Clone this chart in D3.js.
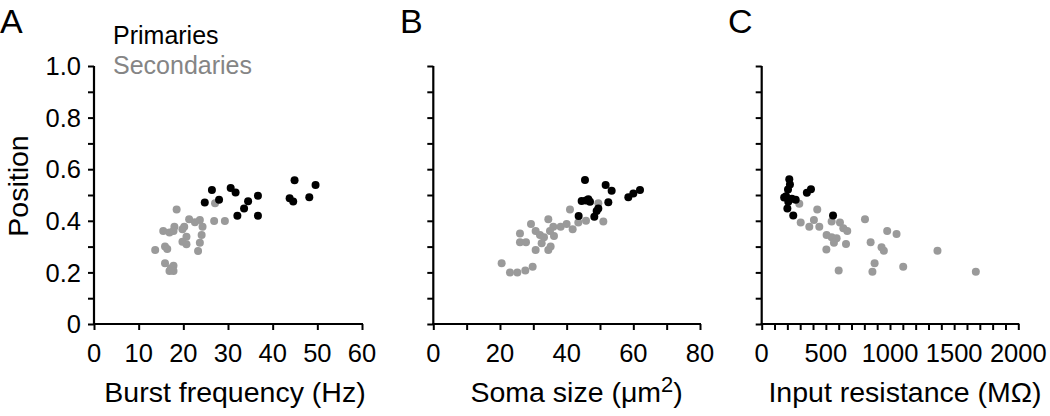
<!DOCTYPE html>
<html><head><meta charset="utf-8">
<script src="https://cdn.jsdelivr.net/npm/d3@7"></script>
<style>
html,body{margin:0;padding:0;background:#fff;}
svg text{font-family:"Liberation Sans",Arial,Helvetica,sans-serif;}
</style></head>
<body><svg id="c" width="1050" height="416"></svg>
<script>
// Panel A: burst frequency (Hz) vs position
const primA = [[24.8,0.471],[26.4,0.519],[28.0,0.482],[30.6,0.527],[31.7,0.510],[32.1,0.420],[33.6,0.448],[34.5,0.476],[36.7,0.497],[36.7,0.420],[43.8,0.487],[44.6,0.475],[44.9,0.557],[48.2,0.491],[49.6,0.539]];
const secA = [[18.5,0.444],[27.1,0.468],[26.9,0.399],[29.3,0.399],[21.3,0.406],[23.7,0.403],[22.6,0.394],[24.3,0.377],[20.2,0.377],[18.0,0.377],[15.5,0.360],[17.8,0.360],[16.9,0.355],[19.8,0.367],[20.7,0.338],[24.1,0.345],[19.8,0.319],[20.7,0.309],[23.7,0.315],[23.3,0.283],[13.7,0.287],[15.9,0.300],[16.4,0.291],[15.9,0.235],[17.8,0.226],[16.9,0.205],[17.8,0.205],[17.2,0.216]];
// Panel B: soma size (um2) vs position
const primB = [[45.5,0.558],[51.7,0.539],[53.5,0.516],[62.0,0.519],[60.0,0.506],[58.5,0.491],[44.5,0.477],[46.5,0.484],[47.0,0.474],[45.8,0.479],[52.5,0.472],[49.5,0.448],[49.0,0.438],[43.6,0.419],[48.3,0.416]];
const secB = [[20.5,0.235],[23.0,0.200],[25.2,0.200],[27.6,0.207],[29.8,0.222],[26.0,0.351],[26.0,0.317],[27.8,0.317],[29.3,0.388],[30.7,0.360],[32.0,0.345],[33.2,0.336],[32.5,0.313],[30.7,0.287],[34.5,0.287],[35.2,0.300],[34.5,0.406],[36.0,0.377],[36.2,0.341],[35.0,0.360],[38.2,0.377],[40.0,0.388],[41.8,0.367],[41.0,0.444],[43.5,0.393],[45.8,0.400],[49.5,0.468],[51.0,0.397]];
// Panel C: input resistance (MOhm) vs position
const primC = [[215,0.561],[220,0.541],[205,0.521],[190,0.495],[175,0.490],[235,0.485],[265,0.482],[207,0.474],[200,0.448],[246,0.421],[352,0.509],[384,0.522],[556,0.421]];
const secC = [[293,0.466],[304,0.393],[371,0.377],[407,0.403],[449,0.377],[433,0.444],[545,0.397],[610,0.393],[636,0.371],[667,0.360],[506,0.345],[545,0.336],[584,0.332],[563,0.315],[657,0.310],[504,0.289],[600,0.207],[805,0.406],[849,0.317],[978,0.360],[1051,0.349],[934,0.297],[952,0.284],[880,0.235],[863,0.203],[1103,0.222],[1370,0.284],[1669,0.203]];

const yTicks = [0,0.1,0.2,0.3,0.4,0.5,0.6,0.7,0.8,0.9,1.0];
const yLabels = [0,0.2,0.4,0.6,0.8,1.0];
const xTicksA = [0,10,20,30,40,50,60];
const xLabelsA = [0,10,20,30,40,50,60];
const xTicksB = [0,10,20,30,40,50,60,70,80];
const xLabelsB = [0,20,40,60,80];
const xTicksC = d3.range(0,2001,100);
const xLabelsC = [0,500,1000,1500,2000];
const series = ["Primaries","Secondaries"];
const panelLetters = ["A","B","C"];
const xTitles = ["Burst frequency (Hz)","Soma size (\u03BCm","Input resistance (M\u03A9)"];

const colPrim = "#000000", colSec = "#9a9a9a", colSecText = "#858585";
const svg = d3.select("#c");
const y = d3.scaleLinear().domain([0,1]).range([324,66]);

const panels = [
  {x: d3.scaleLinear().domain([0,60]).range([94,362]), ticks:xTicksA, labels:xLabelsA, prim:primA, sec:secA, letterX:0, titleDx:7, yLab:true},
  {x: d3.scaleLinear().domain([0,80]).range([433.3,700]), ticks:xTicksB, labels:xLabelsB, prim:primB, sec:secB, letterX:400, titleDx:10, yLab:false},
  {x: d3.scaleLinear().domain([0,2000]).range([761.7,1018.3]), ticks:xTicksC, labels:xLabelsC, prim:primC, sec:secC, letterX:728, titleDx:15, yLab:false}
];

panels.forEach((p,i)=>{
  const g = svg.append("g");
  const x0 = p.x.range()[0], x1 = p.x.range()[1];
  // y axis
  const ya = g.append("g").attr("transform",`translate(${x0},0)`)
    .call(d3.axisLeft(y).tickValues(yTicks).tickSize(6).tickSizeOuter(0).tickFormat(""));
  ya.select(".domain").attr("stroke","#000").attr("stroke-width",2.2).attr("d",`M0,${y(0)}V${y(1)}`);
  ya.selectAll(".tick line").attr("stroke","#000").attr("stroke-width",2);
  if (p.yLab) {
    g.selectAll(".ylab").data(yLabels).join("text")
      .attr("x", x0-13).attr("y", d=>y(d)).attr("dy","0.36em")
      .attr("text-anchor","end").attr("font-size",25.5)
      .text(d=> d===0 ? "0" : d3.format(".1f")(d));
  }
  // x axis
  const xa = g.append("g").attr("transform",`translate(0,${y(0)})`)
    .call(d3.axisBottom(p.x).tickValues(p.ticks).tickSize(6).tickSizeOuter(0).tickFormat(""));
  xa.select(".domain").attr("stroke","#000").attr("stroke-width",2.2).attr("d",`M${x0-1},0H${x1+1}`);
  xa.selectAll(".tick line").attr("stroke","#000").attr("stroke-width",2);
  g.selectAll(".xlab").data(p.labels).join("text")
    .attr("x", d=>p.x(d)).attr("y", 362).attr("text-anchor","middle").attr("font-size",25.5)
    .text(d=>d);
  // x title
  const t = g.append("text").attr("x",(x0+x1)/2 + p.titleDx).attr("y",402)
    .attr("text-anchor","middle").attr("font-size",28.5).text(xTitles[i]);
  if (i===1) {
    t.append("tspan").attr("dy",-10).attr("font-size",22).text("2");
    t.append("tspan").attr("dy",10).text(")");
  }
  // panel letter
  g.append("text").attr("x",p.letterX).attr("y",33).attr("font-size",34).text(panelLetters[i]);
  // points
  g.selectAll(".sec").data(p.sec).join("circle")
    .attr("cx",d=>p.x(d[0])).attr("cy",d=>y(d[1])).attr("r",4).attr("fill",colSec);
  g.selectAll(".prim").data(p.prim).join("circle")
    .attr("cx",d=>p.x(d[0])).attr("cy",d=>y(d[1])).attr("r",4).attr("fill",colPrim);
});

// y title
svg.append("text").attr("transform","translate(28,186) rotate(-90)")
  .attr("text-anchor","middle").attr("font-size",28.5).text("Position");
// legend
svg.append("text").attr("x",113).attr("y",44).attr("font-size",25).attr("fill",colPrim).text(series[0]);
svg.append("text").attr("x",113).attr("y",74).attr("font-size",25).attr("fill",colSecText).text(series[1]);
</script></body></html>
